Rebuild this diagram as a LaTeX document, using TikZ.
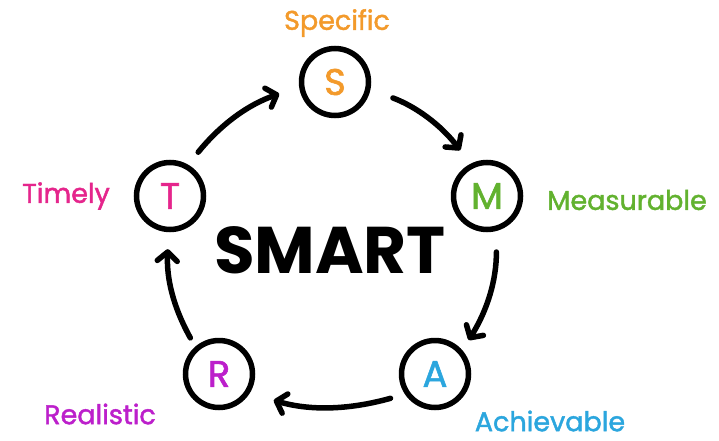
\documentclass[tikz,border=0pt]{standalone}
\usepackage{fontspec}
\setmainfont{Poppins}
\newfontfamily\medfont{Poppins}[FakeBold=1.6]
\usetikzlibrary{arrows.meta}
\definecolor{corange}{HTML}{F39A2B}
\definecolor{cgreen}{HTML}{62B22F}
\definecolor{cpink}{HTML}{E5258C}
\definecolor{cpurple}{HTML}{BC1FCB}
\definecolor{cblue}{HTML}{2BA6DE}
\begin{document}
\begin{tikzpicture}[x=1pt,y=1pt,
  ring/.style={circle, draw=black, line width=5.5pt, minimum size=67pt, inner sep=0pt,
    font=\fontsize{37}{37}\medfont},
  lbl/.style={inner sep=0pt, font=\fontsize{27}{27}\medfont},
  flow/.style={line width=5.5pt, line cap=round,
    -{Straight Barb[length=9pt,width=20pt,line cap=round,line join=round]}}]
\useasboundingbox[fill=white] (0,0) rectangle (719,440);
% circles
\node[ring, text=corange] (S) at (335,358) {S};
\node[ring, text=cgreen]  (M) at (487,244) {M};
\node[ring, text=cblue]   (A) at (435,66)  {A};
\node[ring, text=cpurple] (R) at (219,66)  {R};
\node[ring, text=cpink]   (T) at (170,244) {T};
% centre word
\node[inner sep=0pt, font=\fontsize{66}{66}\selectfont\bfseries] (smart) at (330,190) {SMART};
% labels
\node[lbl, text=corange] (lS) at (337,417) {Specific};
\node[lbl, text=cgreen]  (lM) at (627,240) {Measurable};
\node[lbl, text=cpink]   (lT) at (66,244)  {Timely};
\node[lbl, text=cpurple] (lR) at (100,26)  {Realistic};
\node[lbl, text=cblue]   (lA) at (550,19)  {Achievable};
% arrows
\draw[flow, shorten <=16pt, shorten >=21pt] (T.60)  to[bend left=16] (S.188);
\draw[flow, shorten <=24pt, shorten >=17pt] (S.-12) to[bend left=16] (M.117);
\draw[flow, shorten <=21pt, shorten >=12pt] (M.-75) to[bend left=16] (A.41);
\draw[flow, shorten <=15pt, shorten >=25pt] (A.214) to[bend left=16] (R.-32);
\draw[flow, shorten <=10pt, shorten >=17pt] (R.131) to[bend left=16] (T.-92);
\end{tikzpicture}
\end{document}
